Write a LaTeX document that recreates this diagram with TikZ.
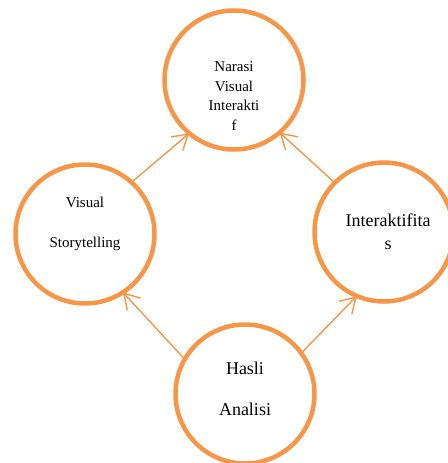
\documentclass[tikz,border=0pt]{standalone}
\usepackage{fontspec}
\setmainfont{Liberation Serif}
\usetikzlibrary{arrows.meta}
\definecolor{ringorange}{HTML}{F79646}
\tikzset{%
  ring/.style={draw=ringorange, line width=4.5pt, circle, minimum size=139pt, inner sep=0pt, outer sep=0pt},
  txt/.style={align=center, inner sep=0pt, text=black},
  line/.style={draw=ringorange, line width=1.4pt, -{Straight Barb[length=15pt,width=18pt]}},
}

\begin{document}
\begin{tikzpicture}[x=1pt, y=-1pt]
  \useasboundingbox (0,0) rectangle (447,463);

  \node (narasi) [ring] at (234,80) {};
  \node (visual) [ring] at (85,234) {};
  \node (interaktif) [ring] at (384,232) {};
  \node (hasli) [ring] at (245,394) {};

  % texts inside the rings
  \node (narasi-t) [txt, font=\fontsize{15}{19.6}\selectfont] at (234,96) {Narasi\\Visual\\Interakti\\f};
  \node (visual-t) [txt, font=\fontsize{15}{40}\selectfont] at (85,224) {Visual\\Storytelling};
  \node (interaktif-t) [txt, font=\fontsize{18}{23}\selectfont] at (388,232) {Interaktifita\\s};
  \node (hasli-t) [txt, font=\fontsize{18}{41}\selectfont] at (245,389) {Hasli\\Analisi};

  \path [line] (visual.48) -- (narasi.230);
  \path [line] (interaktif.135) -- (narasi.311);
  \path [line] (hasli.150) -- (visual.303);
  \path [line] (hasli.36) -- (interaktif.247);
\end{tikzpicture}
\end{document}
